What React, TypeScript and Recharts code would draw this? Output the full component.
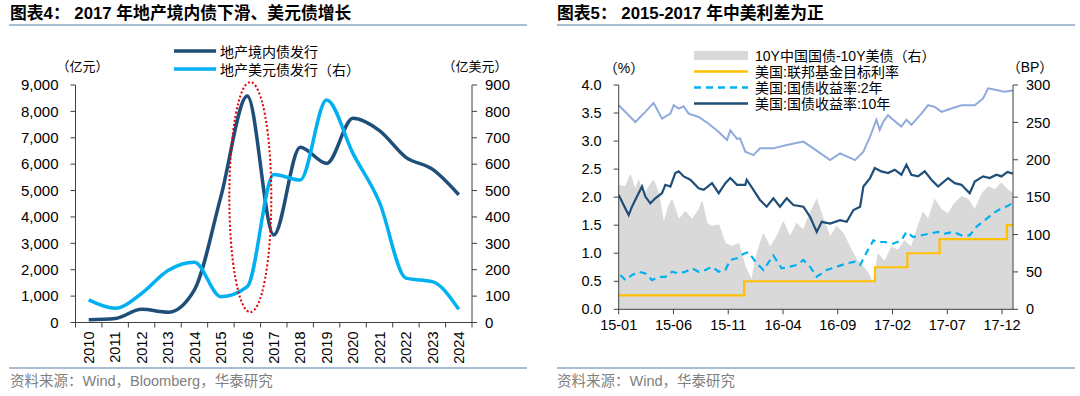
import React from 'react';
import { ComposedChart, Line, Area, XAxis, YAxis, Legend, ReferenceDot } from 'recharts';

// ---------- Left chart data ----------
const years = ['2010', '2011', '2012', '2013', '2014', '2015', '2016', '2017', '2018', '2019', '2020', '2021', '2022', '2023', '2024'];
const domesticIssuance = [100, 150, 500, 390, 1240, 4770, 8580, 3320, 6640, 6030, 7740, 7270, 6260, 5810, 4840];
const usdIssuance = [86, 54, 110, 197, 228, 98, 136, 561, 540, 843, 640, 455, 168, 155, 50];
const leftNames = ['地产境内债发行', '地产美元债发行（右）'];
const leftTicks = [0, 1000, 2000, 3000, 4000, 5000, 6000, 7000, 8000, 9000];
const leftRightTicks = [0, 100, 200, 300, 400, 500, 600, 700, 800, 900];

// ---------- Right chart data (x = months since 2015-01) ----------
const monthTicks = [0, 5, 10, 15, 20, 25, 30, 35];
const monthTickLabels = ['15-01', '15-06', '15-11', '16-04', '16-09', '17-02', '17-07', '17-12'];
const pctTicks = [0, 0.5, 1, 1.5, 2, 2.5, 3, 3.5, 4];
const bpTicks = [0, 50, 100, 150, 200, 250, 300];

const spreadBp: [number, number][] = [
  [0, 166], [0.61, 164], [1.06, 180], [1.52, 160], [1.82, 173], [2.28, 151], [2.74, 164], [3.19, 173], [3.65, 155],
  [4.11, 115], [4.56, 138], [4.87, 147], [5.48, 120], [6.08, 131], [6.69, 120], [7.3, 133], [7.61, 144], [8.06, 115],
  [8.52, 111], [9.13, 113], [9.74, 88], [10.35, 84], [10.95, 88], [11.56, 57], [12.14, 39], [12.6, 74], [13.21, 101],
  [13.82, 83], [14.43, 97], [15.03, 117], [15.64, 97], [16.25, 115], [16.86, 106], [17.47, 129], [18.08, 147],
  [18.69, 120], [19.3, 97], [19.91, 111], [20.52, 101], [21.12, 83], [21.73, 66], [22.34, 57], [22.8, 48], [23.22, 34],
  [23.68, 74], [24.29, 64], [24.9, 83], [25.51, 79], [26.11, 92], [26.72, 83], [27.33, 111], [27.79, 130], [28.25, 120],
  [28.86, 147], [29.47, 133], [30.07, 128], [30.68, 142], [31.29, 151], [31.9, 147], [32.51, 133], [33.18, 155],
  [33.73, 164], [34.33, 160], [34.94, 169], [35.5, 160], [36.0, 155],
];
const fedTarget: [number, number][] = [
  [0, 0.25], [11.45, 0.5], [23.4, 0.75], [26.36, 1.0], [29.3, 1.25], [35.45, 1.5], [36.0, 1.5],
];
const us2y: [number, number][] = [
  [0.15, 0.61], [0.61, 0.52], [1.21, 0.61], [1.82, 0.67], [2.43, 0.64], [3.04, 0.52], [3.65, 0.58], [4.26, 0.58],
  [4.87, 0.67], [5.48, 0.64], [6.08, 0.67], [6.69, 0.73], [7.3, 0.67], [7.91, 0.7], [8.52, 0.76], [9.13, 0.67],
  [9.74, 0.7], [10.19, 0.88], [10.8, 0.91], [11.41, 0.99], [11.84, 1.02], [12.6, 0.82], [13.21, 0.7], [14.12, 0.96],
  [14.88, 0.73], [15.64, 0.76], [16.25, 0.79], [16.86, 0.88], [17.47, 0.76], [18.08, 0.58], [18.99, 0.7], [19.91, 0.76],
  [20.82, 0.82], [21.58, 0.85], [22.04, 0.79], [22.65, 1.02], [23.26, 1.23], [23.53, 1.2], [24.29, 1.2], [25.05, 1.17],
  [25.81, 1.23], [26.27, 1.38], [26.88, 1.29], [27.64, 1.32], [28.4, 1.35], [29.16, 1.38], [29.77, 1.35], [30.53, 1.38],
  [31.29, 1.32], [32.05, 1.32], [32.66, 1.47], [33.42, 1.59], [34.18, 1.71], [34.94, 1.8], [35.5, 1.84], [36.0, 1.9],
];
const us10y: [number, number][] = [
  [0, 2.04], [0.45, 1.86], [0.91, 1.68], [1.21, 1.83], [1.67, 2.01], [2.13, 2.19], [2.43, 2.01], [2.89, 1.89],
  [3.34, 1.98], [3.95, 2.07], [4.26, 2.22], [4.72, 2.19], [5.17, 2.43], [5.48, 2.46], [5.93, 2.37], [6.54, 2.31],
  [7.3, 2.16], [7.76, 2.13], [8.52, 2.25], [9.13, 2.07], [9.74, 2.25], [10.19, 2.34], [10.8, 2.22], [11.56, 2.22],
  [11.69, 2.31], [12.3, 2.13], [12.9, 1.95], [13.51, 1.83], [14.12, 1.98], [14.73, 1.83], [15.34, 1.98], [15.95, 1.86],
  [16.86, 1.83], [17.47, 1.65], [18.08, 1.38], [18.54, 1.56], [19.3, 1.53], [20.21, 1.59], [20.82, 1.56], [21.43, 1.77],
  [22.04, 1.83], [22.34, 2.19], [22.95, 2.34], [23.38, 2.52], [23.98, 2.46], [24.59, 2.43], [25.2, 2.49], [25.81, 2.4],
  [26.27, 2.58], [26.72, 2.4], [27.33, 2.37], [27.94, 2.46], [28.55, 2.31], [29.16, 2.19], [30.07, 2.34], [30.68, 2.25],
  [31.29, 2.22], [32.05, 2.07], [32.51, 2.28], [33.27, 2.37], [33.88, 2.34], [34.49, 2.4], [34.94, 2.37], [35.5, 2.45],
  [36.0, 2.42],
];
const cn10y: [number, number][] = [
  [0, 3.64], [1.52, 3.34], [2.43, 3.52], [3.19, 3.68], [3.95, 3.4], [4.72, 3.49], [5.02, 3.64], [5.48, 3.58],
  [5.93, 3.62], [6.39, 3.49], [7.3, 3.43], [8.22, 3.31], [9.13, 3.16], [9.89, 3.02], [10.19, 3.19], [10.8, 3.04],
  [11.08, 3.05], [11.56, 2.81], [12.3, 2.75], [12.9, 2.87], [14.12, 2.87], [15.34, 2.93], [16.86, 2.99], [17.77, 2.87],
  [19.3, 2.66], [20.21, 2.78], [21.58, 2.66], [22.34, 2.81], [22.95, 3.08], [23.53, 3.38], [23.83, 3.2], [24.14, 3.34],
  [24.59, 3.46], [25.05, 3.38], [25.81, 3.26], [26.27, 3.38], [26.72, 3.29], [27.64, 3.49], [28.25, 3.64], [28.86, 3.61],
  [29.47, 3.52], [30.38, 3.58], [31.29, 3.64], [32.51, 3.64], [33.27, 3.76], [33.73, 3.94], [34.49, 3.91], [35.2, 3.88],
  [36.0, 3.9],
];
const rightNames = ['10Y中国国债-10Y美债（右）', '美国:联邦基金目标利率', '美国:国债收益率:2年', '美国:国债收益率:10年'];
const cnName = '中国:国债收益率:10年';

// ---------- Styles ----------
const FONT = '"Liberation Sans", Arial, "Noto Sans CJK SC", sans-serif';
const NAVY = '#1f4e79';
const SKY = '#00b0f0';
const GOLD = '#ffc000';
const PERI = '#8faadc';
const GRAY = '#d9d9d9';
const AXIS = '#404040';
const RULE = '#a9bdd4';

const leftData = years.map((y, i) => ({ year: y, domestic: domesticIssuance[i], usd: usdIssuance[i] }));
const toRows = (pts: [number, number][]) => pts.map(([m, v]) => ({ m, v }));

const LW = 540;
const LEFT_YW = 75.5;
const LEFT_RW = 68;
const HALF_BAND = (LW - LEFT_YW - LEFT_RW) / years.length / 2;

const YearTick = (props: any) => {
  const { x, y, payload, index } = props;
  return (
    <g>
      <line x1={x - HALF_BAND} x2={x - HALF_BAND} y1={y} y2={y + 5} stroke={AXIS} />
      {index === years.length - 1 && <line x1={x + HALF_BAND} x2={x + HALF_BAND} y1={y} y2={y + 5} stroke={AXIS} />}
      <text
        x={x}
        y={y + 9}
        transform={`rotate(-90 ${x} ${y + 9})`}
        textAnchor="end"
        dy="0.36em"
        fontSize={14.5}
        fontFamily={FONT}
        fill="#000"
      >
        {payload.value}
      </text>
    </g>
  );
};

const LeftLegend = () => {
  const colors = [NAVY, SKY];
  return (
    <div style={{ fontFamily: FONT, fontSize: 14, color: '#000' }}>
      {leftNames.map((n, i) => (
        <div key={n} style={{ display: 'flex', alignItems: 'center', height: 18, whiteSpace: 'nowrap' }}>
          <svg width={42} height={8} style={{ marginRight: 4 }}>
            <line x1={0} x2={42} y1={4} y2={4} stroke={colors[i]} strokeWidth={3.5} />
          </svg>
          <span>{n}</span>
        </div>
      ))}
    </div>
  );
};

const RightLegend = () => {
  const sym = (i: number) => {
    if (i === 0) return <rect x={0} y={1} width={54} height={9} fill={GRAY} />;
    if (i === 1) return <line x1={0} x2={54} y1={5.5} y2={5.5} stroke={GOLD} strokeWidth={2.5} />;
    if (i === 2) return <line x1={0} x2={54} y1={5.5} y2={5.5} stroke={SKY} strokeWidth={2.5} strokeDasharray="7 5" />;
    return <line x1={0} x2={54} y1={5.5} y2={5.5} stroke={NAVY} strokeWidth={2.5} />;
  };
  return (
    <div style={{ fontFamily: FONT, fontSize: 14, color: '#000' }}>
      {rightNames.map((n, i) => (
        <div key={n} style={{ display: 'flex', alignItems: 'center', height: 16.1, whiteSpace: 'nowrap' }}>
          <svg width={54} height={11} style={{ marginRight: 7 }}>{sym(i)}</svg>
          <span>{n}</span>
        </div>
      ))}
    </div>
  );
};

const Txt = ({ cx, cy, size, children, color = '#000', w = 140 }: any) => (
  <div
    style={{
      position: 'absolute', left: cx - w / 2, top: cy - 10, width: w, height: 20, lineHeight: '20px',
      textAlign: 'center', fontSize: size, fontFamily: FONT, color, whiteSpace: 'nowrap',
    }}
  >
    {children}
  </div>
);

const Ellipse = (p: any) => (
  <ellipse cx={p.cx + 3} cy={p.cy} rx={21} ry={115} fill="none" stroke="#e00000" strokeWidth={2} strokeDasharray="2 2.2" />
);

export default function App() {
  const tickStyle = { fontSize: 15, fill: '#000', fontFamily: FONT };
  const tickStyleR = { fontSize: 14.5, fill: '#000', fontFamily: FONT };
  return (
    <div style={{ position: 'absolute', left: 0, top: 0, width: 1080, height: 396, background: '#fff', overflow: 'hidden', fontFamily: FONT }}>
      {/* Titles */}
      <div style={{ position: 'absolute', left: 10, top: 4, fontSize: 16.8, fontWeight: 700, lineHeight: '20px', whiteSpace: 'pre', color: '#000' }}>
        图表4： 2017 年地产境内债下滑、美元债增长
      </div>
      <div style={{ position: 'absolute', left: 557, top: 4, fontSize: 16.8, fontWeight: 700, lineHeight: '20px', whiteSpace: 'pre', color: '#000' }}>
        图表5： 2015-2017 年中美利差为正
      </div>
      <div style={{ position: 'absolute', left: 9, top: 24, width: 518, height: 2, background: RULE }} />
      <div style={{ position: 'absolute', left: 557, top: 24, width: 518, height: 2, background: RULE }} />

      {/* Left chart */}
      <div style={{ position: 'absolute', left: 0, top: 0 }}>
        <ComposedChart width={LW} height={396} data={leftData} margin={{ top: 85, right: 0, bottom: 0, left: 0 }}>
          <XAxis
            dataKey="year"
            type="category"
            height={73.5}
            padding={{ left: HALF_BAND, right: HALF_BAND }}
            tickLine={false}
            tickSize={0}
            tickMargin={0}
            axisLine={{ stroke: AXIS }}
            interval={0}
            tick={<YearTick />}
          />
          <YAxis
            yAxisId="l"
            domain={[0, 9000]}
            ticks={leftTicks}
            width={LEFT_YW}
            tickSize={5}
            tickMargin={12}
            tick={tickStyle}
            tickFormatter={(v: number) => v.toLocaleString('en-US')}
            axisLine={{ stroke: AXIS }}
            tickLine={{ stroke: AXIS }}
            interval={0}
          />
          <YAxis
            yAxisId="r"
            orientation="right"
            domain={[0, 900]}
            ticks={leftRightTicks}
            width={LEFT_RW}
            tickSize={5}
            tickMargin={8}
            tick={tickStyle}
            axisLine={{ stroke: AXIS }}
            tickLine={{ stroke: AXIS }}
            interval={0}
          />
          <Line yAxisId="l" dataKey="domestic" name={leftNames[0]} type="monotone" stroke={NAVY} strokeWidth={3.5} dot={false} isAnimationActive={false} />
          <Line yAxisId="r" dataKey="usd" name={leftNames[1]} type="monotone" stroke={SKY} strokeWidth={3.5} dot={false} isAnimationActive={false} />
          <ReferenceDot yAxisId="l" x="2016" y={4750} r={1} ifOverflow="visible" shape={<Ellipse />} />
          <Legend
            layout="vertical"
            align="center"
            verticalAlign="middle"
            wrapperStyle={{ left: 174, top: 42, width: 300, height: 40 }}
            content={<LeftLegend />}
          />
        </ComposedChart>
      </div>

      {/* Right chart */}
      <div style={{ position: 'absolute', left: 540, top: 0 }}>
        <ComposedChart width={540} height={396} margin={{ top: 85, right: 0, bottom: 0, left: 0 }}>
          <XAxis
            dataKey="m"
            type="number"
            domain={[0, 36.0]}
            allowDataOverflow
            ticks={monthTicks}
            interval={0}
            height={86.7}
            tickSize={5}
            tickMargin={5}
            tick={tickStyleR}
            tickFormatter={(v: number) => monthTickLabels[monthTicks.indexOf(v)] ?? ''}
            axisLine={{ stroke: AXIS }}
            tickLine={{ stroke: AXIS }}
          />
          <YAxis
            yAxisId="l"
            domain={[0, 4]}
            ticks={pctTicks}
            width={78.7}
            tickSize={5}
            tickMargin={12}
            tick={tickStyleR}
            tickFormatter={(v: number) => v.toFixed(1)}
            axisLine={{ stroke: AXIS }}
            tickLine={{ stroke: AXIS }}
            interval={0}
          />
          <YAxis
            yAxisId="r"
            orientation="right"
            domain={[0, 300]}
            ticks={bpTicks}
            width={67}
            tickSize={5}
            tickMargin={8}
            tick={tickStyleR}
            axisLine={{ stroke: AXIS }}
            tickLine={{ stroke: AXIS }}
            interval={0}
          />
          <Area yAxisId="r" data={toRows(spreadBp)} dataKey="v" name={rightNames[0]} type="linear" fill={GRAY} fillOpacity={1} stroke={GRAY} strokeWidth={1} dot={false} isAnimationActive={false} />
          <Line yAxisId="l" data={toRows(cn10y)} dataKey="v" name={cnName} legendType="none" type="linear" stroke={PERI} strokeWidth={2} dot={false} isAnimationActive={false} />
          <Line yAxisId="l" data={toRows(us10y)} dataKey="v" name={rightNames[3]} type="linear" stroke={NAVY} strokeWidth={2.2} dot={false} isAnimationActive={false} />
          <Line yAxisId="l" data={toRows(us2y)} dataKey="v" name={rightNames[2]} type="linear" stroke={SKY} strokeWidth={2.2} strokeDasharray="7 5" dot={false} isAnimationActive={false} />
          <Line yAxisId="l" data={toRows(fedTarget)} dataKey="v" name={rightNames[1]} type="stepAfter" stroke={GOLD} strokeWidth={2.2} dot={false} isAnimationActive={false} />
          <Legend
            layout="vertical"
            align="center"
            verticalAlign="middle"
            wrapperStyle={{ left: 154, top: 47, width: 320, height: 66 }}
            content={<RightLegend />}
          />
        </ComposedChart>
      </div>

      {/* Axis unit labels */}
      <Txt cx={82.5} cy={66.7} size={13}>（亿元）</Txt>
      <Txt cx={475} cy={66.7} size={13}>（亿美元）</Txt>
      <Txt cx={624} cy={68} size={14}>（%）</Txt>
      <Txt cx={1030} cy={67} size={14}>（BP）</Txt>

      {/* Source */}
      <div style={{ position: 'absolute', left: 9, top: 367, width: 518, height: 2, background: RULE }} />
      <div style={{ position: 'absolute', left: 557, top: 367, width: 518, height: 2, background: RULE }} />
      <div style={{ position: 'absolute', left: 10, top: 371, lineHeight: '20px', fontSize: 14.5, color: '#7f7f7f', whiteSpace: 'pre', fontFamily: FONT }}>
        资料来源：Wind，Bloomberg，华泰研究
      </div>
      <div style={{ position: 'absolute', left: 557, top: 371, lineHeight: '20px', fontSize: 14.5, color: '#7f7f7f', whiteSpace: 'pre', fontFamily: FONT }}>
        资料来源：Wind，华泰研究
      </div>
    </div>
  );
}
